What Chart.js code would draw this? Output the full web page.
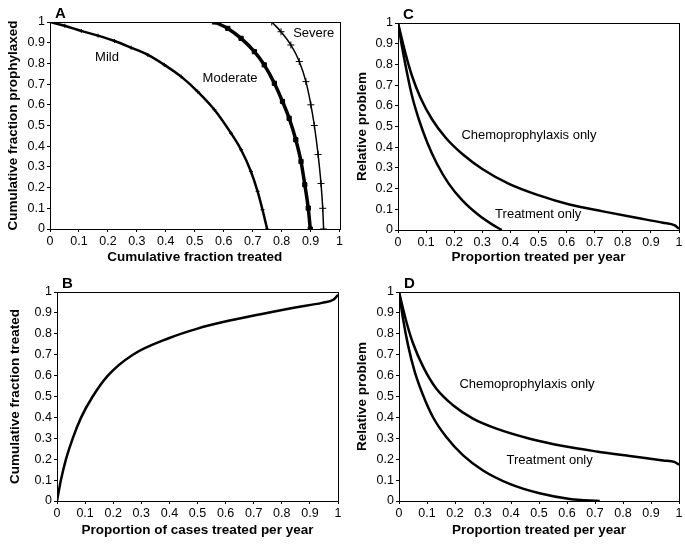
<!DOCTYPE html>
<html lang="en">
<head>
    <meta charset="UTF-8">
    <title>Prophylaxis vs treatment</title>
    <script src="https://cdn.jsdelivr.net/npm/chart.js"></script>
    <style>
        body { margin: 0; background: #fff; }
        canvas { position: absolute; }
    </style>
</head>
<body>
    <canvas id="panelA" width="345" height="270" style="left:0;top:0"></canvas>
    <canvas id="panelB" width="345" height="274" style="left:0;top:270px"></canvas>
    <canvas id="panelC" width="340" height="270" style="left:345px;top:0"></canvas>
    <canvas id="panelD" width="340" height="274" style="left:345px;top:270px"></canvas>
    <script>
        // axis ticks shared by every panel
        const tickValues = [0, 0.1, 0.2, 0.3, 0.4, 0.5, 0.6, 0.7, 0.8, 0.9, 1];
        const tickLabels = ['0', '0.1', '0.2', '0.3', '0.4', '0.5', '0.6', '0.7', '0.8', '0.9', '1'];

        // panel A
        const mildX = [0, 0.051, 0.108, 0.166, 0.223, 0.280, 0.338, 0.395, 0.453, 0.510, 0.568, 0.625, 0.660, 0.694, 0.717, 0.734, 0.750];
        const mildY = [1.0, 0.982, 0.957, 0.934, 0.908, 0.876, 0.841, 0.793, 0.736, 0.664, 0.576, 0.463, 0.383, 0.278, 0.182, 0.093, 0];
        const moderateX = [0.568, 0.614, 0.660, 0.706, 0.740, 0.775, 0.803, 0.826, 0.849, 0.867, 0.880, 0.892, 0.899];
        const moderateY = [1.0, 0.969, 0.921, 0.857, 0.793, 0.704, 0.616, 0.535, 0.431, 0.326, 0.214, 0.101, 0];
        const severeX = [0.766, 0.798, 0.832, 0.861, 0.884, 0.901, 0.913, 0.926, 0.936, 0.942, 0.945];
        const severeY = [1.0, 0.953, 0.889, 0.809, 0.712, 0.600, 0.500, 0.360, 0.220, 0.100, 0];

        // panel B
        const casesX = [0, 0.014, 0.032, 0.056, 0.086, 0.127, 0.181, 0.27, 0.4, 0.5, 0.61, 0.729, 0.848, 0.943, 0.985, 1.0];
        const casesY = [0, 0.1, 0.2, 0.3, 0.4, 0.5, 0.6, 0.7, 0.78, 0.825, 0.862, 0.895, 0.926, 0.948, 0.964, 0.987];

        // panel C
        const cChemoX = [0, 0.026, 0.05, 0.08, 0.121, 0.169, 0.229, 0.3, 0.395, 0.502, 0.61, 0.729, 0.848, 0.943, 0.985, 1.0];
        const cChemoY = [1, 0.856, 0.744, 0.639, 0.535, 0.447, 0.367, 0.295, 0.223, 0.167, 0.123, 0.09, 0.059, 0.035, 0.022, 0.006];
        const cTreatX = [0, 0.014, 0.032, 0.05, 0.074, 0.104, 0.139, 0.181, 0.229, 0.288, 0.336, 0.369];
        const cTreatY = [1, 0.888, 0.76, 0.647, 0.535, 0.423, 0.319, 0.223, 0.143, 0.071, 0.026, 0];

        // panel D
        const dChemoX = [0, 0.026, 0.05, 0.086, 0.133, 0.193, 0.264, 0.348, 0.467, 0.586, 0.705, 0.824, 0.943, 0.985, 1.0];
        const dChemoY = [1, 0.859, 0.755, 0.643, 0.538, 0.458, 0.394, 0.346, 0.298, 0.263, 0.237, 0.215, 0.194, 0.186, 0.173];
        const dTreatX = [0, 0.014, 0.032, 0.056, 0.086, 0.121, 0.169, 0.229, 0.3, 0.395, 0.502, 0.61, 0.717];
        const dTreatY = [1, 0.875, 0.747, 0.619, 0.506, 0.402, 0.306, 0.218, 0.146, 0.082, 0.037, 0.01, 0];

        const FONT = "'Liberation Sans', Arial, Helvetica, sans-serif";

        function pts(xs, ys) {
            return xs.map((x, i) => ({ x: x, y: ys[i] }));
        }

        function curve(xs, ys, width, extra) {
            return Object.assign({
                data: pts(xs, ys),
                showLine: true,
                borderColor: '#000',
                backgroundColor: '#000',
                borderWidth: width,
                pointRadius: 0,
                cubicInterpolationMode: 'monotone'
            }, extra || {});
        }

        // box round the plot, panel letter and in-plot labels
        const panelPlugin = {
            id: 'panel',
            afterDraw(chart, args, opts) {
                const ctx = chart.ctx;
                const a = chart.chartArea;
                ctx.save();
                ctx.strokeStyle = '#000';
                ctx.lineWidth = 1;
                ctx.strokeRect(Math.round(a.left) + 0.5, Math.round(a.top) + 0.5,
                    Math.round(a.right - a.left), Math.round(a.bottom - a.top));
                ctx.fillStyle = '#000';
                ctx.font = 'bold 15px ' + FONT;
                ctx.textAlign = 'left';
                ctx.textBaseline = 'alphabetic';
                ctx.fillText(opts.letter, a.left + 5, a.top - 4);
                ctx.font = '13px ' + FONT;
                ctx.textAlign = 'center';
                ctx.textBaseline = 'middle';
                (opts.notes || []).forEach(n => {
                    ctx.fillText(n.text, chart.scales.x.getPixelForValue(n.x), chart.scales.y.getPixelForValue(n.y));
                });
                ctx.restore();
            }
        };

        function axis(title, titlePad, fit) {
            return {
                type: 'linear',
                min: 0,
                max: 1,
                afterBuildTicks: s => { s.ticks = tickValues.map(v => ({ value: v })); },
                afterFit: fit,
                grid: { drawOnChartArea: false, drawTicks: true, tickLength: 3, color: '#000', lineWidth: 1 },
                border: { display: true, color: '#000', width: 1 },
                ticks: {
                    color: '#000',
                    font: { family: FONT, size: 12.5 },
                    padding: 2,
                    autoSkip: false,
                    maxRotation: 0,
                    callback: (v, i) => tickLabels[i]
                },
                title: {
                    display: true,
                    text: title,
                    color: '#000',
                    font: { family: FONT, size: 13.5, weight: 'bold' },
                    padding: titlePad
                }
            };
        }

        function makeChart(id, datasets, o) {
            return new Chart(document.getElementById(id), {
                type: 'scatter',
                data: { datasets: datasets },
                options: {
                    responsive: false,
                    animation: false,
                    layout: { padding: { top: o.top, right: o.right, left: 0, bottom: 0 } },
                    plugins: {
                        legend: { display: false },
                        tooltip: { enabled: false },
                        panel: { letter: o.letter, notes: o.notes }
                    },
                    scales: {
                        x: axis(o.xTitle, { top: 0, bottom: o.xPad }, s => { s.height = o.xh; }),
                        y: axis(o.yTitle, { top: o.yPad, bottom: 0 }, s => { s.width = o.yw; })
                    }
                },
                plugins: [panelPlugin]
            });
        }

        makeChart('panelA', [
            curve(mildX, mildY, 2.5, { pointRadius: 2, pointStyle: 'cross', pointBorderWidth: 1 }),
            curve(moderateX, moderateY, 3.5, { pointRadius: 3, pointStyle: 'rect', pointBorderWidth: 1 }),
            curve(severeX, severeY, 1.5, { pointRadius: 3.5, pointStyle: 'cross', pointBorderWidth: 1 })
        ], {
            letter: 'A', top: 22, right: 5, xh: 41, yw: 50, xPad: 5, yPad: 5,
            xTitle: 'Cumulative fraction treated', yTitle: 'Cumulative fraction prophylaxed',
            notes: [
                { text: 'Mild', x: 0.197, y: 0.83 },
                { text: 'Moderate', x: 0.622, y: 0.728 },
                { text: 'Severe', x: 0.911, y: 0.945 }
            ]
        });

        makeChart('panelB', [
            curve(casesX, casesY, 2.5)
        ], {
            letter: 'B', top: 22, right: 7, xh: 43, yw: 57, xPad: 6, yPad: 7,
            xTitle: 'Proportion of cases treated per year', yTitle: 'Cumulative fraction treated',
            notes: []
        });

        makeChart('panelC', [
            curve(cChemoX, cChemoY, 2.5),
            curve(cTreatX, cTreatY, 2.5)
        ], {
            letter: 'C', top: 23, right: 6, xh: 40, yw: 53, xPad: 5, yPad: 9,
            xTitle: 'Proportion treated per year', yTitle: 'Relative problem',
            notes: [
                { text: 'Chemoprophylaxis only', x: 0.466, y: 0.455 },
                { text: 'Treatment only', x: 0.499, y: 0.074 }
            ]
        });

        makeChart('panelD', [
            curve(dChemoX, dChemoY, 2.5),
            curve(dTreatX, dTreatY, 2.5)
        ], {
            letter: 'D', top: 22, right: 6, xh: 43, yw: 54, xPad: 6, yPad: 9,
            xTitle: 'Proportion treated per year', yTitle: 'Relative problem',
            notes: [
                { text: 'Chemoprophylaxis only', x: 0.457, y: 0.56 },
                { text: 'Treatment only', x: 0.538, y: 0.194 }
            ]
        });
    </script>
</body>
</html>
